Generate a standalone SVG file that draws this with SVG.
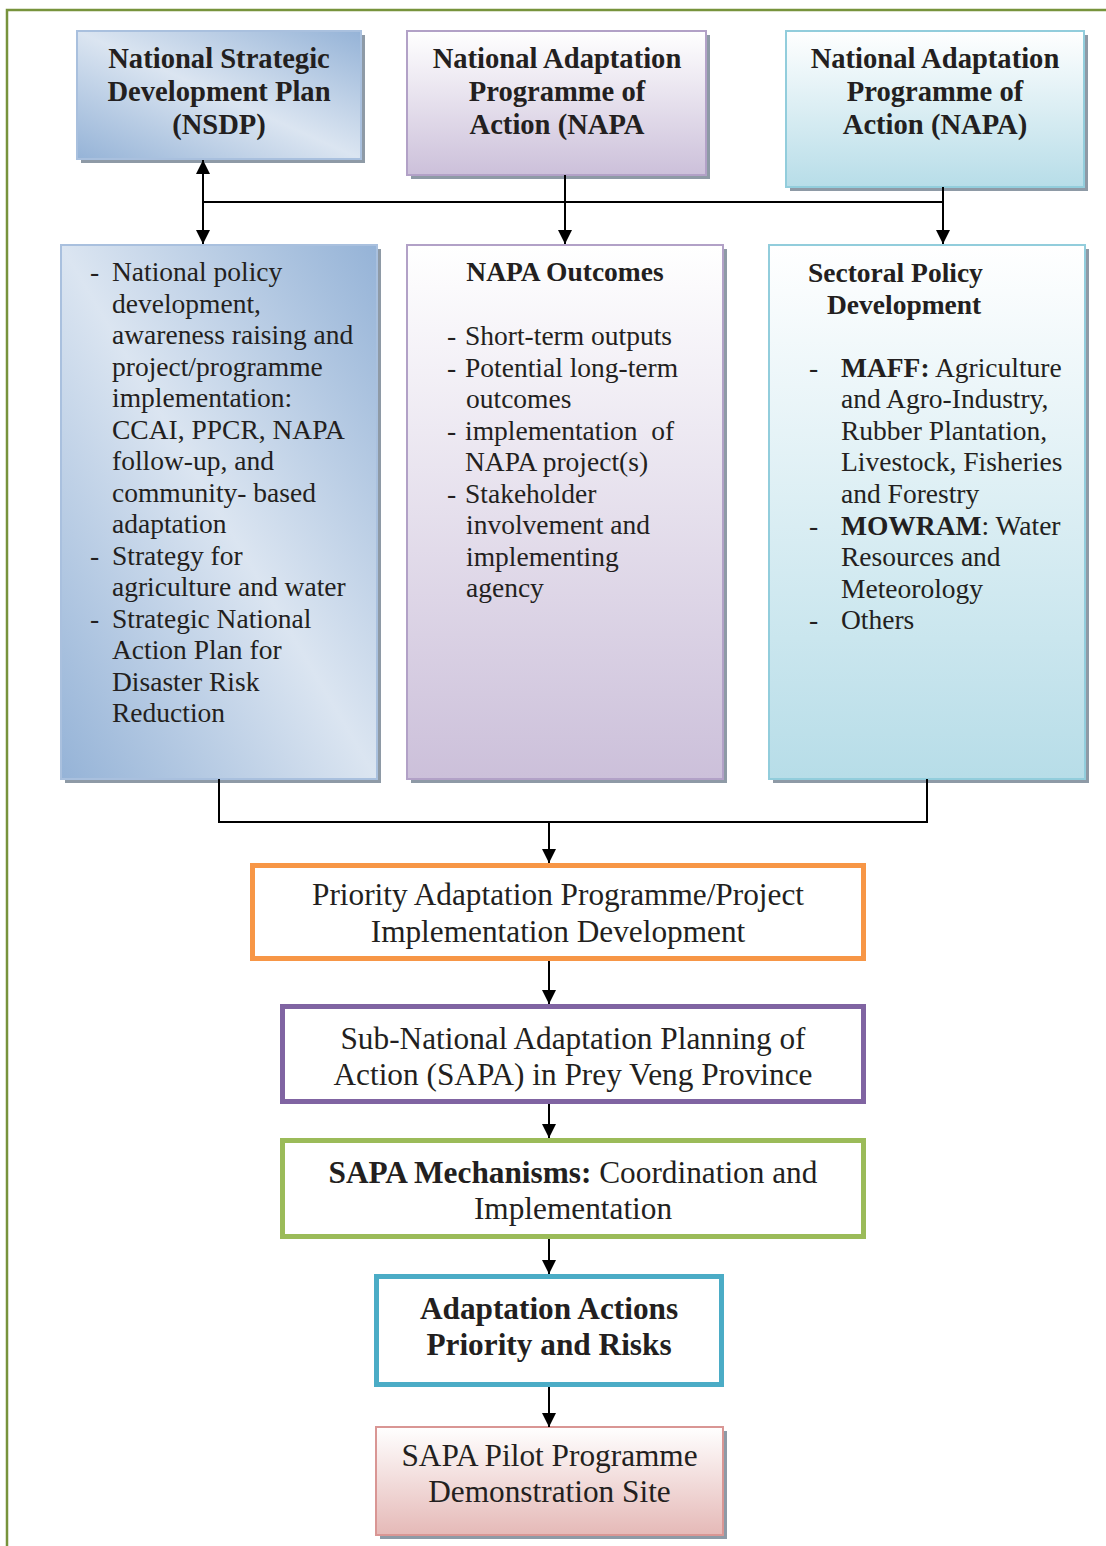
<svg xmlns="http://www.w3.org/2000/svg" width="1106" height="1546" viewBox="0 0 1106 1546">
<defs>
<linearGradient id="gBlue" x1="0" y1="1" x2="1" y2="0">
<stop offset="0" stop-color="#95b3d7"/><stop offset="0.5" stop-color="#dbe5f1"/><stop offset="1" stop-color="#95b3d7"/>
</linearGradient>
<linearGradient id="gPurple" x1="0" y1="0" x2="0" y2="1">
<stop offset="0" stop-color="#ffffff"/><stop offset="1" stop-color="#ccc0da"/>
</linearGradient>
<linearGradient id="gAqua" x1="0" y1="0" x2="0" y2="1">
<stop offset="0" stop-color="#ffffff"/><stop offset="1" stop-color="#b7dde8"/>
</linearGradient>
<linearGradient id="gPink" x1="0" y1="0" x2="0" y2="1">
<stop offset="0" stop-color="#ffffff"/><stop offset="1" stop-color="#e5b9b7"/>
</linearGradient>
<marker id="ah" markerUnits="userSpaceOnUse" markerWidth="14" markerHeight="14" refX="14" refY="7" orient="auto-start-reverse" viewBox="0 0 14 14">
<path d="M0,0 L14,7 L0,14 z" fill="#000"/>
</marker>
<style>
text{font-family:"Liberation Serif","Times New Roman",serif;fill:#231f20}
.t{font-size:28.6px;font-weight:bold;text-anchor:middle}
.b{font-size:27.5px}
.bb{font-size:27.5px;font-weight:bold}
.l{font-size:31.3px;text-anchor:middle}
.lb{font-size:31.3px;font-weight:bold;text-anchor:middle}
.bold{font-weight:bold}
.sh{fill:#8e9aa6}
.conn{stroke:#000;stroke-width:2;fill:none}
.arr{marker-end:url(#ah)}
</style>
</defs>

<path d="M7,1546 V10 H1106" fill="none" stroke="#77933c" stroke-width="2.5"/>

<g id="nsdp">
<rect class="sh" x="81" y="35" width="284" height="128"/>
<rect x="77" y="31" width="284" height="128" fill="url(#gBlue)" stroke="#a9c0de" stroke-width="2"/>
<text class="t" x="219" y="68">National Strategic</text>
<text class="t" x="219" y="101">Development Plan</text>
<text class="t" x="219" y="134">(NSDP)</text>
</g>

<g id="napa1">
<rect class="sh" x="411" y="35" width="299" height="144"/>
<rect x="407" y="31" width="299" height="144" fill="url(#gPurple)" stroke="#b2a1c7" stroke-width="2"/>
<text class="t" x="557" y="68">National Adaptation</text>
<text class="t" x="557" y="101">Programme of</text>
<text class="t" x="557" y="134">Action (NAPA</text>
</g>

<g id="napa2">
<rect class="sh" x="790" y="35" width="298" height="156"/>
<rect x="786" y="31" width="298" height="156" fill="url(#gAqua)" stroke="#92cddc" stroke-width="2"/>
<text class="t" x="935" y="68">National Adaptation</text>
<text class="t" x="935" y="101">Programme of</text>
<text class="t" x="935" y="134">Action (NAPA)</text>
</g>

<g id="policy">
<rect class="sh" x="65" y="249" width="316" height="534"/>
<rect x="61" y="245" width="316" height="534" fill="url(#gBlue)" stroke="#a9c0de" stroke-width="2"/>
<text class="b" x="90" y="281">-</text>
<text class="b" x="90" y="564.5">-</text>
<text class="b" x="90" y="627.5">-</text>
<text class="b" x="112" y="281">National policy</text>
<text class="b" x="112" y="312.5">development,</text>
<text class="b" x="112" y="344">awareness raising and</text>
<text class="b" x="112" y="375.5">project/programme</text>
<text class="b" x="112" y="407">implementation:</text>
<text class="b" x="112" y="438.5">CCAI, PPCR, NAPA</text>
<text class="b" x="112" y="470">follow-up, and</text>
<text class="b" x="112" y="501.5">community- based</text>
<text class="b" x="112" y="533">adaptation</text>
<text class="b" x="112" y="564.5">Strategy for</text>
<text class="b" x="112" y="596">agriculture and water</text>
<text class="b" x="112" y="627.5">Strategic National</text>
<text class="b" x="112" y="659">Action Plan for</text>
<text class="b" x="112" y="690.5">Disaster Risk</text>
<text class="b" x="112" y="722">Reduction</text>
</g>

<g id="outcomes">
<rect class="sh" x="411" y="249" width="316" height="534"/>
<rect x="407" y="245" width="316" height="534" fill="url(#gPurple)" stroke="#b2a1c7" stroke-width="2"/>
<text class="bb" x="565" y="281" text-anchor="middle">NAPA Outcomes</text>
<text class="b" x="447" y="345">-</text>
<text class="b" x="447" y="376.5">-</text>
<text class="b" x="447" y="439.5">-</text>
<text class="b" x="447" y="502.5">-</text>
<text class="b" x="465" y="345">Short-term outputs</text>
<text class="b" x="465" y="376.5">Potential long-term</text>
<text class="b" x="466" y="408">outcomes</text>
<text class="b" x="465" y="439.5" xml:space="preserve">implementation  of</text>
<text class="b" x="465" y="471">NAPA project(s)</text>
<text class="b" x="465" y="502.5">Stakeholder</text>
<text class="b" x="466" y="534">involvement and</text>
<text class="b" x="466" y="565.5">implementing</text>
<text class="b" x="466" y="597">agency</text>
</g>

<g id="sectoral">
<rect class="sh" x="773" y="249" width="316" height="534"/>
<rect x="769" y="245" width="316" height="534" fill="url(#gAqua)" stroke="#92cddc" stroke-width="2"/>
<text class="bb" x="808" y="282">Sectoral Policy</text>
<text class="bb" x="827" y="313.5">Development</text>
<text class="b" x="809" y="376.5">-</text>
<text class="b" x="809" y="534.5">-</text>
<text class="b" x="809" y="629">-</text>
<text class="b" x="841" y="376.5"><tspan class="bold">MAFF:</tspan> Agriculture</text>
<text class="b" x="841" y="408">and Agro-Industry,</text>
<text class="b" x="841" y="439.5">Rubber Plantation,</text>
<text class="b" x="841" y="471">Livestock, Fisheries</text>
<text class="b" x="841" y="502.5">and Forestry</text>
<text class="b" x="841" y="534.5"><tspan class="bold">MOWRAM</tspan>: Water</text>
<text class="b" x="841" y="566">Resources and</text>
<text class="b" x="841" y="597.5">Meteorology</text>
<text class="b" x="841" y="629">Others</text>
</g>

<g id="priority">
<rect x="252.5" y="865.5" width="611" height="93" fill="#fff" stroke="#f79646" stroke-width="5"/>
<text class="l" x="558" y="905">Priority Adaptation Programme/Project</text>
<text class="l" x="558" y="942">Implementation Development</text>
</g>

<g id="sapa">
<rect x="282.5" y="1006.5" width="581" height="95" fill="#fff" stroke="#8064a2" stroke-width="5"/>
<text class="l" x="573" y="1049">Sub-National Adaptation Planning of</text>
<text class="l" x="573" y="1085">Action (SAPA) in Prey Veng Province</text>
</g>

<g id="mechanisms">
<rect x="282.5" y="1140.5" width="581" height="96" fill="#fff" stroke="#9bbb59" stroke-width="5"/>
<text class="l" x="573" y="1183"><tspan class="bold">SAPA Mechanisms:</tspan> Coordination and</text>
<text class="l" x="573" y="1219">Implementation</text>
</g>

<g id="actions">
<rect x="376.5" y="1276.5" width="345" height="108" fill="#fff" stroke="#4bacc6" stroke-width="5"/>
<text class="lb" x="549" y="1319">Adaptation Actions</text>
<text class="lb" x="549" y="1355">Priority and Risks</text>
</g>

<g id="pilot">
<rect class="sh" x="380" y="1431" width="347" height="108"/>
<rect x="376" y="1427" width="347" height="108" fill="url(#gPink)" stroke="#d99694" stroke-width="2"/>
<text class="l" x="549.5" y="1466">SAPA Pilot Programme</text>
<text class="l" x="549.5" y="1502">Demonstration Site</text>
</g>

<g id="connectors">
<path class="conn" d="M203,160 V244" marker-start="url(#ah)" marker-end="url(#ah)"/>
<path class="conn" d="M203,202 H943"/>
<path class="conn arr" d="M565,175 V244"/>
<path class="conn arr" d="M943,187 V244"/>
<path class="conn" d="M219,779 V822 H927 V779"/>
<path class="conn arr" d="M549,822 V863"/>
<path class="conn arr" d="M549,961 V1004"/>
<path class="conn arr" d="M549,1104 V1138"/>
<path class="conn arr" d="M549,1239 V1274"/>
<path class="conn arr" d="M549,1387 V1427"/>
</g>
</svg>
